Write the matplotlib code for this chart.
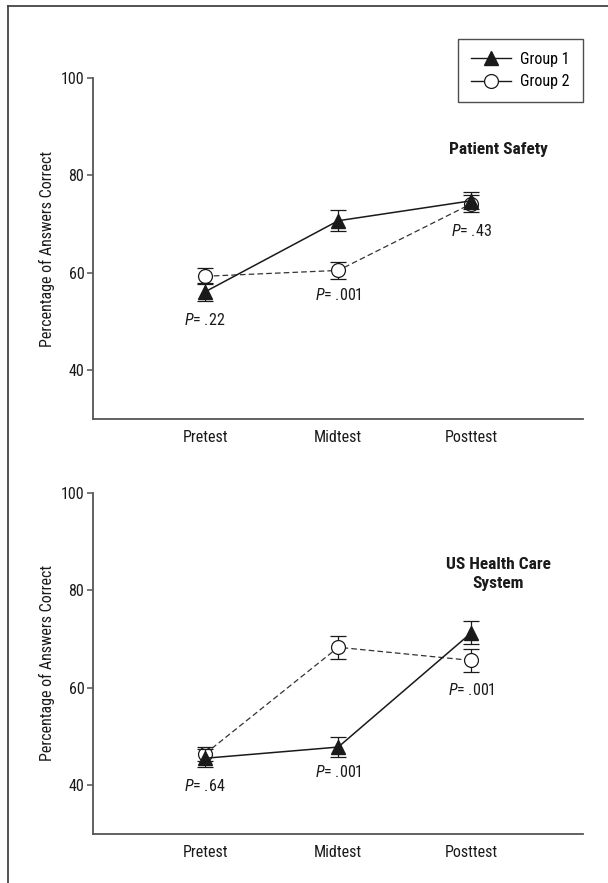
import matplotlib
matplotlib.use("Agg")
import matplotlib.pyplot as plt
from matplotlib import font_manager
from matplotlib.lines import Line2D

# ---------------- data ----------------
categories = ["Pretest", "Midtest", "Posttest"]
yticks = [40, 60, 80, 100]

ps_group1 = [56.1, 70.7, 74.8]
ps_group1_err = [1.9, 2.2, 1.7]
ps_group2 = [59.3, 60.5, 74.2]
ps_group2_err = [1.6, 1.7, 1.7]
ps_pvalues = [".22", ".001", ".43"]
ps_pvalue_y = [50.4, 55.5, 68.6]

hc_group1 = [45.5, 47.8, 71.3]
hc_group1_err = [1.8, 2.0, 2.3]
hc_group2 = [46.4, 68.3, 65.6]
hc_group2_err = [1.5, 2.4, 2.3]
hc_pvalues = [".64", ".001", ".001"]
hc_pvalue_y = [39.8, 42.6, 59.5]

# ---------------- fonts ----------------
FONT = "Liberation Sans"
STRETCH = "normal"
cands = []
for f in font_manager.fontManager.ttflist:
    st = f.stretch
    narrow = ("Narrow" in f.name or "Condensed" in f.name or
              st in ("condensed", "semi-condensed", "extra-condensed", "ultra-condensed") or
              (isinstance(st, int) and st < 500))
    if narrow and f.style == "normal" and f.weight in (400, "normal", "regular"):
        cands.append(f)
pref = ["Liberation Sans Narrow", "Roboto Condensed", "Open Sans Condensed", "Noto Sans", "DejaVu Sans"]
cands.sort(key=lambda f: pref.index(f.name) if f.name in pref else len(pref))
if cands:
    FONT = cands[0].name
    STRETCH = cands[0].stretch if isinstance(cands[0].stretch, str) else "condensed"

plt.rcParams["font.family"] = [FONT, "DejaVu Sans"]
plt.rcParams["font.stretch"] = STRETCH
plt.rcParams["mathtext.fontset"] = "custom"
sfx = "" if STRETCH == "normal" else ":stretch=" + STRETCH
plt.rcParams["mathtext.it"] = FONT + ":italic" + sfx
plt.rcParams["mathtext.rm"] = FONT + sfx
FS = 11.5
AXC = "#555555"
LC = "#1a1a1a"

W, H = 608, 883
fig = plt.figure(figsize=(W / 100, H / 100), dpi=100)

x = [1, 2, 3]


def panel(rect, g1, e1, g2, e2, pv, pvy, title, title_y, legend=False):
    ax = fig.add_axes(rect)
    ax.errorbar(x, g2, yerr=e2, color="#333333", lw=0.9, ls=(0, (4.5, 2.5)),
                marker="o", ms=10, mfc="white", mec=LC, mew=0.9,
                ecolor=LC, elinewidth=0.9, capsize=5.5, capthick=0.9, zorder=3)
    ax.errorbar(x, g1, yerr=e1, color=LC, lw=1.1, ls="-",
                marker="^", ms=10.5, mfc=LC, mec=LC,
                ecolor=LC, elinewidth=0.9, capsize=5.5, capthick=0.9, zorder=4)
    for xi, p, yy in zip(x, pv, pvy):
        ax.text(xi, yy, r"$P$= " + p, ha="center", va="center", fontsize=FS, color=LC)
    ax.text(3.2, title_y, title, ha="center", va="center", fontsize=FS + 1,
            fontweight="bold", color=LC, linespacing=1.35)
    ax.set_xlim(0.157, 3.835)
    ax.set_ylim(30, 100)
    ax.set_xticks(x)
    ax.set_xticklabels(categories, fontsize=FS, color=LC)
    ax.set_yticks(yticks)
    ax.set_yticklabels([str(t) for t in yticks], fontsize=FS, color=LC)
    ax.tick_params(axis="x", length=0, pad=8)
    ax.tick_params(axis="y", direction="out", length=4, width=1.1, color=AXC, pad=2)
    for s in ["top", "right"]:
        ax.spines[s].set_visible(False)
    for s in ["left", "bottom"]:
        ax.spines[s].set_color(AXC)
        ax.spines[s].set_linewidth(1.3)
    ax.set_ylabel("Percentage of Answers Correct", fontsize=FS, color=LC, labelpad=4)
    if legend:
        h1 = Line2D([], [], color=LC, lw=1.0, marker="^", ms=10.5, mfc=LC, mec=LC)
        h2 = Line2D([], [], color=LC, lw=1.0, marker="o", ms=10, mfc="white", mec=LC, mew=0.9)
        leg = ax.legend([h1, h2], ["Group 1", "Group 2"], loc="upper right",
                        bbox_to_anchor=(1.0, 1.114), borderaxespad=0, fontsize=FS,
                        frameon=True, fancybox=False, handlelength=2.5,
                        handletextpad=0.6, borderpad=0.8, labelspacing=0.45)
        leg.get_frame().set_edgecolor("#222222")
        leg.get_frame().set_linewidth(1.0)
    return ax


left = 92.7 / W
width = (582.7 - 92.7) / W
panel([left, 1 - 419 / H, width, (419 - 78) / H],
      ps_group1, ps_group1_err, ps_group2, ps_group2_err, ps_pvalues, ps_pvalue_y,
      "Patient Safety", 85.4, legend=True)
panel([left, 1 - 833.7 / H, width, (833.7 - 493) / H],
      hc_group1, hc_group1_err, hc_group2, hc_group2_err, hc_pvalues, hc_pvalue_y,
      "US Health Care\nSystem", 83.3)

# outer frame (top and left edges only visible)
fig.add_artist(Line2D([8 / W, 1.0], [1 - 6 / H, 1 - 6 / H], color="#444444", lw=1.3,
                      transform=fig.transFigure))
fig.add_artist(Line2D([8 / W, 8 / W], [0.0, 1 - 6 / H], color="#444444", lw=1.3,
                      transform=fig.transFigure))

fig.savefig("out.png", dpi=100)
